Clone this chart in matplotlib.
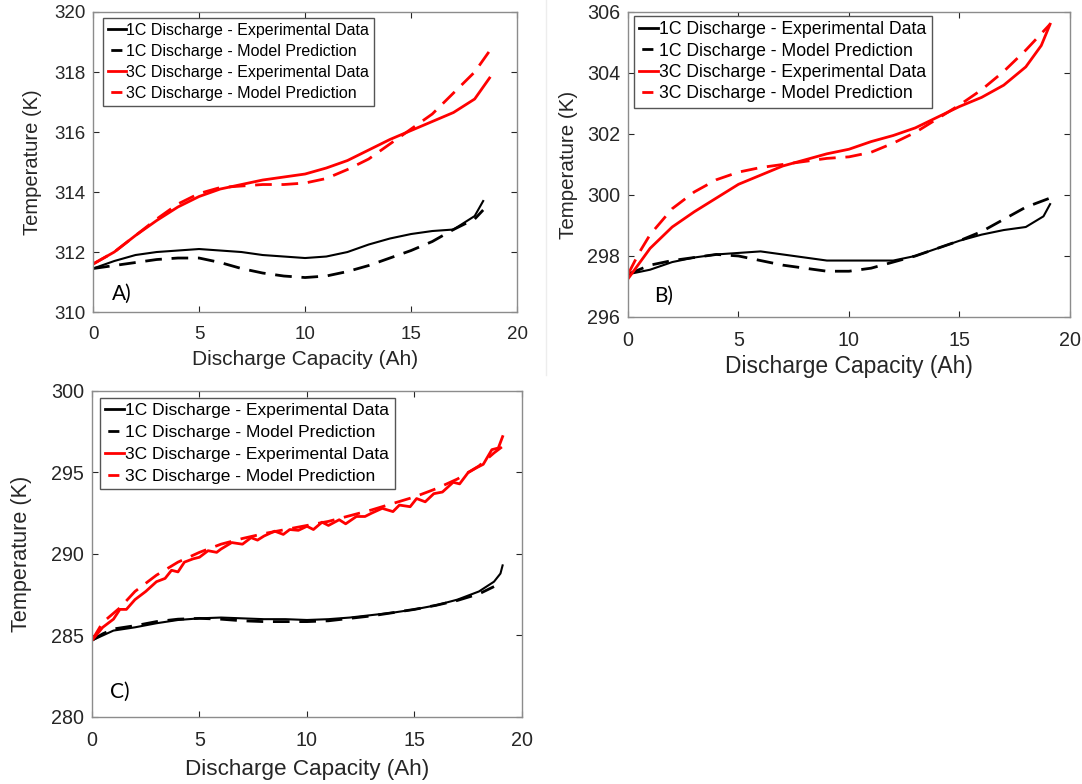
import matplotlib.pyplot as plt
from matplotlib.lines import Line2D

plt.rcParams['font.family'] = ['Liberation Sans', 'DejaVu Sans']

# Panel A
a_x1e = [0, 1, 2, 3, 4, 5, 6, 7, 8, 9, 10, 11, 12, 13, 14, 15, 16, 17, 18, 18.4]
a_y1e = [311.45, 311.7, 311.9, 312.0, 312.05, 312.1, 312.05, 312.0, 311.9, 311.85,
         311.8, 311.85, 312.0, 312.25, 312.45, 312.6, 312.7, 312.75, 313.2, 313.7]
a_x1m = [0, 1, 2, 3, 4, 5, 6, 7, 8, 9, 10, 11, 12, 13, 14, 15, 16, 17, 18, 18.4]
a_y1m = [311.45, 311.55, 311.65, 311.75, 311.8, 311.8, 311.65, 311.45, 311.3, 311.2,
         311.15, 311.2, 311.35, 311.55, 311.8, 312.05, 312.35, 312.75, 313.1, 313.4]
a_x3e = [0, 1, 2, 3, 4, 5, 6, 7, 8, 9, 10, 11, 12, 13, 14, 15, 16, 17, 18, 18.7]
a_y3e = [311.6, 312.0, 312.55, 313.05, 313.5, 313.85, 314.1, 314.25, 314.4, 314.5,
         314.6, 314.8, 315.05, 315.4, 315.75, 316.05, 316.35, 316.65, 317.1, 317.8]
a_x3m = [0, 1, 2, 3, 4, 5, 6, 7, 8, 9, 10, 11, 12, 13, 14, 15, 16, 17, 18, 18.7]
a_y3m = [311.6, 312.0, 312.55, 313.1, 313.6, 313.95, 314.15, 314.2, 314.25, 314.25,
         314.3, 314.45, 314.75, 315.1, 315.6, 316.1, 316.6, 317.3, 318.0, 318.7]

# Panel B
b_x1e = [0, 1, 2, 3, 4, 5, 6, 7, 8, 9, 10, 11, 12, 13, 14, 15, 16, 17, 18, 18.8, 19.1]
b_y1e = [297.4, 297.55, 297.8, 297.95, 298.05, 298.1, 298.15, 298.05, 297.95, 297.85,
         297.85, 297.85, 297.85, 298.0, 298.25, 298.5, 298.7, 298.85, 298.95, 299.3, 299.7]
b_x1m = [0, 1, 2, 3, 4, 5, 6, 7, 8, 9, 10, 11, 12, 13, 14, 15, 16, 17, 18, 19.1]
b_y1m = [297.4, 297.7, 297.85, 297.95, 298.05, 298.0, 297.85, 297.7, 297.6, 297.5,
         297.5, 297.6, 297.8, 298.0, 298.25, 298.5, 298.8, 299.2, 299.6, 299.9]
b_x3e = [0, 0.5, 1, 2, 3, 4, 5, 6, 7, 8, 9, 10, 11, 12, 13, 14, 15, 16, 17, 18, 18.7, 19.1]
b_y3e = [297.25, 297.75, 298.25, 298.95, 299.45, 299.9, 300.35, 300.65, 300.95, 301.15, 301.35,
         301.5, 301.75, 301.95, 302.2, 302.55, 302.9, 303.2, 303.6, 304.2, 304.9, 305.6]
b_x3m = [0, 0.5, 1, 2, 3, 4, 5, 6, 7, 8, 9, 10, 11, 12, 13, 14, 15, 16, 17, 18, 19.1]
b_y3m = [297.4, 298.1, 298.7, 299.55, 300.1, 300.5, 300.75, 300.9, 301.0, 301.1, 301.2,
         301.25, 301.4, 301.7, 302.05, 302.5, 302.95, 303.45, 304.05, 304.75, 305.6]

# Panel C
c_x1e = [0, 0.5, 1, 2, 3, 4, 5, 6, 7, 8, 9, 10, 11, 12, 13, 14, 15, 16, 17, 18, 18.7, 19, 19.1]
c_y1e = [284.7, 285.0, 285.3, 285.5, 285.75, 285.95, 286.05, 286.1, 286.05, 286.0, 286.0, 285.95,
         286.0, 286.1, 286.25, 286.4, 286.6, 286.85, 287.2, 287.7, 288.3, 288.8, 289.3]
c_x1m = [0, 0.5, 1, 2, 3, 4, 5, 6, 7, 8, 9, 10, 11, 12, 13, 14, 15, 16, 17, 18, 18.7]
c_y1m = [284.7, 285.1, 285.4, 285.6, 285.85, 286.0, 286.05, 286.0, 285.9, 285.85, 285.85, 285.85,
         285.9, 286.05, 286.2, 286.4, 286.6, 286.85, 287.15, 287.55, 288.0]
c_x3e = [0, 0.5, 1.0, 1.3, 1.6, 2.0, 2.5, 3.0, 3.4, 3.7, 4.0, 4.3, 4.7, 5.0, 5.4, 5.8, 6.0,
         6.5, 7.0, 7.4, 7.7, 8.0, 8.5, 8.9, 9.2, 9.6, 10.0, 10.3, 10.7, 11.0, 11.5, 11.8,
         12.3, 12.7, 13.0, 13.5, 14.0, 14.3, 14.8, 15.1, 15.5, 15.9, 16.3, 16.8, 17.1,
         17.5, 17.9, 18.2, 18.6, 18.9, 19.1]
c_y3e = [284.7, 285.5, 286.0, 286.6, 286.6, 287.2, 287.7, 288.3, 288.5, 289.0, 288.9, 289.5,
         289.7, 289.8, 290.2, 290.1, 290.3, 290.7, 290.6, 291.0, 290.85, 291.1, 291.4, 291.2,
         291.5, 291.45, 291.7, 291.5, 291.95, 291.75, 292.1, 291.85, 292.3, 292.3, 292.5,
         292.8, 292.6, 293.0, 292.9, 293.4, 293.2, 293.7, 293.8, 294.4, 294.3, 295.0, 295.3,
         295.5, 296.4, 296.5, 297.2]
c_x3m = [0, 0.5, 1.3, 2, 3, 4, 5, 6, 7, 8, 9, 10, 11, 12, 13, 14, 15, 16, 17, 18, 18.7, 19.1]
c_y3m = [284.7, 285.8, 286.7, 287.7, 288.7, 289.5, 290.1, 290.6, 290.95, 291.25, 291.5, 291.75,
         292.0, 292.35, 292.7, 293.1, 293.5, 294.0, 294.6, 295.4, 296.2, 296.6]

labels = ['1C Discharge - Experimental Data', '1C Discharge - Model Prediction',
          '3C Discharge - Experimental Data', '3C Discharge - Model Prediction']

panels = [
    dict(rect=[0.0860, 0.6020, 0.3919, 0.3827], ylim=(310, 320),
         yticks=[310, 312, 314, 316, 318, 320],
         data=(a_x1e, a_y1e, a_x1m, a_y1m, a_x3e, a_y3e, a_x3m, a_y3m),
         tag='A)', tagpos=(0.9, 310.4), anchor=(0.024, 0.98),
         tick=13.5, xlab=15, ylab=14.5, leg=11.5, ls=0.38, xpad=5, ypad=9),
    dict(rect=[0.5804, 0.5957, 0.4085, 0.3890], ylim=(296, 306),
         yticks=[296, 298, 300, 302, 304, 306],
         data=(b_x1e, b_y1e, b_x1m, b_y1m, b_x3e, b_y3e, b_x3m, b_y3m),
         tag='B)', tagpos=(1.2, 296.5), anchor=(0.013, 0.987),
         tick=14.2, xlab=16.5, ylab=14.8, leg=12.7, ls=0.25, xpad=3.5, ypad=6.5),
    dict(rect=[0.0850, 0.0855, 0.3974, 0.4158], ylim=(280, 300),
         yticks=[280, 285, 290, 295, 300],
         data=(c_x1e, c_y1e, c_x1m, c_y1m, c_x3e, c_y3e, c_x3m, c_y3m),
         tag='C)', tagpos=(0.84, 281.2), anchor=(0.019, 0.98),
         tick=14.2, xlab=16.2, ylab=15.6, leg=12.5, ls=0.4, xpad=6.5, ypad=14),
]

dash = (0, (6, 3.5))
handles = [
    Line2D([], [], color='black', lw=2),
    Line2D([], [], color='black', lw=2, ls=(-1, (4, 12))),
    Line2D([], [], color='red', lw=2),
    Line2D([], [], color='red', lw=2, ls=(-1, (4, 12))),
]

fig = plt.figure(figsize=(10.82, 7.84), dpi=100)

# faint crop border between the two top panels
fig.add_artist(Line2D([546 / 1082, 546 / 1082], [1, 1 - 375 / 784],
                      transform=fig.transFigure, color='#ededed', lw=1))

for p in panels:
    d = p['data']
    ax = fig.add_axes(p['rect'])
    ax.plot(d[0], d[1], color='black', lw=1.5)
    ax.plot(d[2], d[3], color='black', lw=2, ls=dash)
    ax.plot(d[4], d[5], color='red', lw=2)
    ax.plot(d[6], d[7], color='red', lw=2, ls=dash)
    ax.set_xlim(0, 20)
    ax.set_ylim(*p['ylim'])
    ax.set_xticks([0, 5, 10, 15, 20])
    ax.set_yticks(p['yticks'])
    ax.tick_params(axis='x', direction='in', top=True, labelsize=p['tick'],
                   colors='#262626', length=4, width=0.8, pad=10)
    ax.tick_params(axis='y', direction='in', right=True, labelsize=p['tick'],
                   colors='#262626', length=4, width=0.8, pad=5.5)
    for s in ax.spines.values():
        s.set_color('#8c8c8c')
        s.set_linewidth(1)
    ax.set_xlabel('Discharge Capacity (Ah)', fontsize=p['xlab'], color='#262626',
                  labelpad=p['xpad'])
    ax.set_ylabel('Temperature (K)', fontsize=p['ylab'], color='#262626',
                  labelpad=p['ypad'])
    leg = ax.legend(handles, labels, loc='upper left', bbox_to_anchor=p['anchor'],
                    borderaxespad=0, fontsize=p['leg'], handlelength=1.1,
                    handletextpad=0.05, labelspacing=p['ls'], borderpad=0.3,
                    fancybox=False, framealpha=1, edgecolor='#555555')
    leg.get_frame().set_linewidth(1)
    ax.text(p['tagpos'][0], p['tagpos'][1], p['tag'], fontsize=15, family='Lato',
            color='black')

fig.savefig('out.png', dpi=100)
